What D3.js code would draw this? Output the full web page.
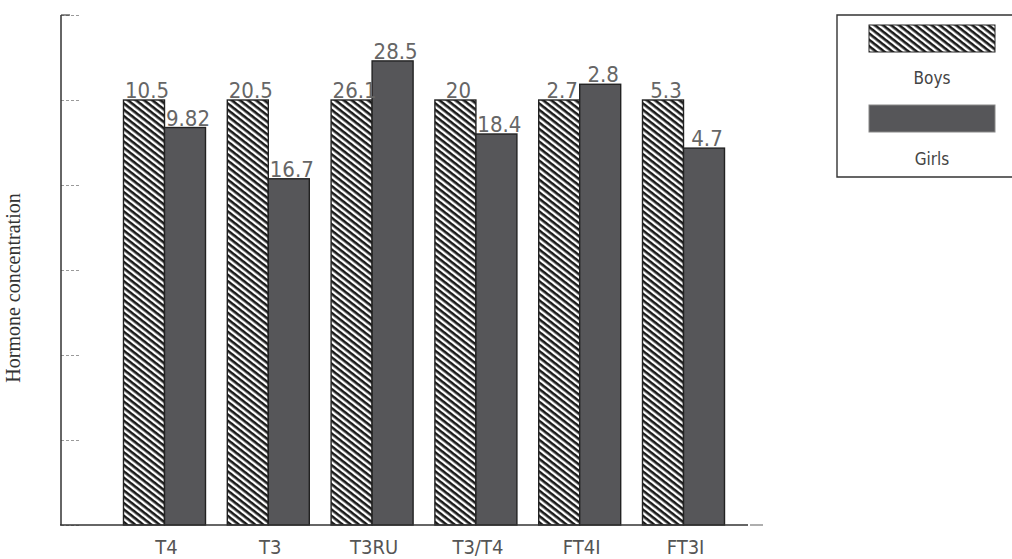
<!DOCTYPE html>
<html>
<head>
<meta charset="utf-8">
<script src="https://cdn.jsdelivr.net/npm/d3@7"></script>
<style>
  html, body { margin: 0; padding: 0; background: #fff; }
  svg { display: block; }
  text { -webkit-font-smoothing: antialiased; }
</style>
</head>
<body>
<svg id="chart" width="1012" height="559"></svg>
<script>
// hormone values; girls bars are drawn relative to boys (= 100)
const categories = ['T4', 'T3', 'T3RU', 'T3/T4', 'FT4I', 'FT3I'];
const boys = [10.5, 20.5, 26.1, 20, 2.7, 5.3];
const girls = [9.82, 16.7, 28.5, 18.4, 2.8, 4.7];
const yTicks = [0, 20, 40, 60, 80, 100, 120];
const series = ['Boys', 'Girls'];

const svg = d3.select('#chart');
const labelFont = '"DejaVu Sans Condensed", "DejaVu Sans", sans-serif';

const defs = svg.append('defs');
const hatch = defs
  .append('pattern')
  .attr('id', 'hatch')
  .attr('patternUnits', 'userSpaceOnUse')
  .attr('width', 10)
  .attr('height', 5)
  .attr('patternTransform', 'rotate(38)');
hatch.append('rect').attr('width', 10).attr('height', 5).attr('fill', '#fff');
hatch.append('rect').attr('width', 10).attr('height', 2.6).attr('fill', '#1a1a1a');

const x = d3.scaleBand().domain(categories).range([112.6, 735.4]).paddingInner(0.21).paddingOuter(0.105);
const xs = d3.scaleBand().domain(series).range([0, x.bandwidth()]);
const y = d3.scaleLinear().domain([0, 120]).range([525, 15]);

const rows = categories.map((c, i) => ({
  cat: c,
  bars: [
    { key: 'Boys', value: boys[i], rel: 100 },
    { key: 'Girls', value: girls[i], rel: (girls[i] / boys[i]) * 100 }
  ]
}));

// y axis: unlabelled ticks pointing inward
const yAxis = svg
  .append('g')
  .attr('transform', 'translate(61,0)')
  .call(d3.axisRight(y).tickValues(yTicks).tickSize(18).tickFormat(''));
yAxis.select('.domain').remove();
yAxis.selectAll('.tick line').attr('stroke', '#9a9a9a').attr('stroke-dasharray', '3,2').attr('stroke-width', 1.2);
svg.append('line').attr('x1', 61).attr('x2', 61).attr('y1', y(120)).attr('y2', y(0)).attr('stroke', '#333').attr('stroke-width', 1.5);
svg.append('line').attr('x1', 61).attr('x2', 70).attr('y1', y(120)).attr('y2', y(120)).attr('stroke', '#444').attr('stroke-width', 1.2);

const fill = { Boys: 'url(#hatch)', Girls: '#565659' };

const group = svg
  .append('g')
  .selectAll('g')
  .data(rows)
  .join('g')
  .attr('transform', (d) => `translate(${x(d.cat)},0)`);

group
  .selectAll('rect')
  .data((d) => d.bars)
  .join('rect')
  .attr('x', (d) => xs(d.key))
  .attr('y', (d) => y(d.rel))
  .attr('width', xs.bandwidth())
  .attr('height', (d) => y(0) - y(d.rel))
  .attr('fill', (d) => fill[d.key])
  .attr('stroke', '#222')
  .attr('stroke-width', 1.4);

group
  .selectAll('text')
  .data((d) => d.bars)
  .join('text')
  .attr('x', (d) => xs(d.key) + xs.bandwidth() / 2 + 3)
  .attr('y', (d) => y(d.rel) - 2)
  .attr('text-anchor', 'middle')
  .attr('font-family', labelFont)
  .attr('font-size', 22)
  .attr('font-weight', 200)
  .attr('fill', '#666')
  .text((d) => d.value);

// baseline and category labels
svg.append('line').attr('x1', 60).attr('x2', 748).attr('y1', y(0)).attr('y2', y(0)).attr('stroke', '#333').attr('stroke-width', 1.5);
svg.append('line').attr('x1', 750).attr('x2', 763).attr('y1', y(0)).attr('y2', y(0)).attr('stroke', '#777').attr('stroke-width', 1.2);

const xAxis = svg
  .append('g')
  .attr('transform', `translate(0,${y(0)})`)
  .call(d3.axisBottom(x).tickSize(0).tickPadding(15));
xAxis.select('.domain').remove();
xAxis
  .selectAll('.tick text')
  .attr('font-family', labelFont)
  .attr('font-size', 20)
  .attr('font-weight', 200)
  .attr('fill', '#555')
  .attr('dx', 2);

svg
  .append('text')
  .attr('transform', 'translate(20,288) rotate(-90)')
  .attr('text-anchor', 'middle')
  .attr('font-family', '"Liberation Serif", "DejaVu Serif", serif')
  .attr('font-size', 20)
  .attr('fill', '#333')
  .text('Hormone concentration');

// legend
const legend = svg.append('g');
legend.append('path').attr('d', 'M1012,15 H837 V177 H1012').attr('fill', 'none').attr('stroke', '#333').attr('stroke-width', 1.4);
series.forEach((s, i) => {
  legend
    .append('rect')
    .attr('x', 869)
    .attr('y', 25 + i * 80)
    .attr('width', 126)
    .attr('height', 27)
    .attr('fill', fill[s])
    .attr('stroke', s === 'Boys' ? '#222' : '#888')
    .attr('stroke-width', 1);
  legend
    .append('text')
    .attr('x', 932)
    .attr('y', 84 + i * 81)
    .attr('text-anchor', 'middle')
    .attr('font-family', labelFont)
    .attr('font-size', 17)
    .attr('font-weight', 200)
    .attr('fill', '#444')
    .text(s);
});
</script>
</body>
</html>
